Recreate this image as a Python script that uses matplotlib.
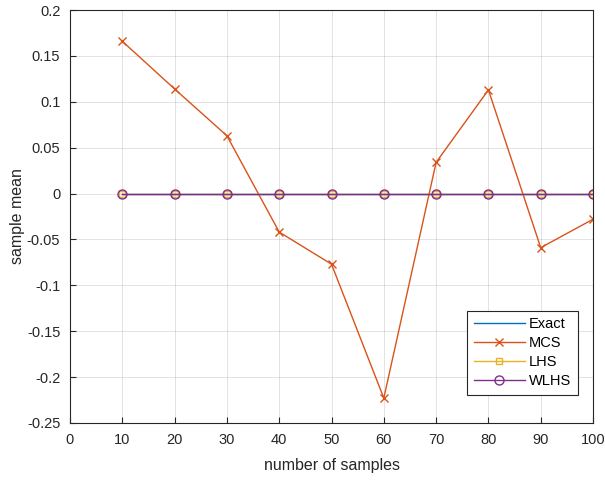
import numpy as np
import matplotlib
matplotlib.use('Agg')
import matplotlib.pyplot as plt

# number of samples
n = [10, 20, 30, 40, 50, 60, 70, 80, 90, 100]

# sample means
exact = [0, 0, 0, 0, 0, 0, 0, 0, 0, 0]
mcs = [0.166, 0.114, 0.063, -0.042, -0.077, -0.223, 0.034, 0.113, -0.059, -0.028]
lhs = [0, 0, 0, 0, 0, 0, 0, 0, 0, 0]
wlhs = [0, 0, 0, 0, 0, 0, 0, 0, 0, 0]

plt.rcParams['font.family'] = ['Liberation Sans', 'DejaVu Sans']
plt.rcParams['font.size'] = 10

fig = plt.figure(figsize=(6.05, 4.8), dpi=100)
ax = fig.add_axes([0.1157, 0.119, 0.8645, 0.860])

ax.plot(n, exact, color='#0072BD', lw=1, label='Exact')
ax.plot(n, mcs, color='#D95319', lw=1, marker='x', ms=6, mew=1, label='MCS')
ax.plot(n, lhs, color='#EDB120', lw=1, marker='s', ms=5, mfc='none', mew=1, label='LHS')
ax.plot(n, wlhs, color='#7E2F8E', lw=1, marker='o', ms=6.5, mfc='none', mew=1, label='WLHS')

ax.set_xlim(0, 100)
ax.set_ylim(-0.25, 0.2)
ax.set_xticks(np.arange(0, 101, 10))
ax.set_yticks(np.arange(-0.25, 0.201, 0.05))
ax.set_yticklabels(['-0.25', '-0.2', '-0.15', '-0.1', '-0.05', '0', '0.05', '0.1', '0.15', '0.2'])
ax.grid(True, color='#262626', alpha=0.15, lw=0.6)
ax.tick_params(direction='in', length=4, colors='#262626', labelcolor='#262626', labelsize=10.5)
ax.tick_params(axis='x', pad=7)
ax.tick_params(axis='y', pad=7)
for s in ax.spines.values():
    s.set_color('#262626')
    s.set_linewidth(0.8)

ax.set_xlabel('number of samples', fontsize=11.5, color='#262626', labelpad=8)
ax.set_ylabel('sample mean', fontsize=11.5, color='#262626', labelpad=1)

leg = ax.legend(loc='lower right', bbox_to_anchor=(0.985, 0.05), fancybox=False,
                edgecolor='#262626', framealpha=1, fontsize=10.5, handlelength=3.5,
                borderpad=0.45, labelspacing=0.35, handletextpad=0.3)
leg.get_frame().set_linewidth(0.8)

fig.savefig('out.png', dpi=100)
